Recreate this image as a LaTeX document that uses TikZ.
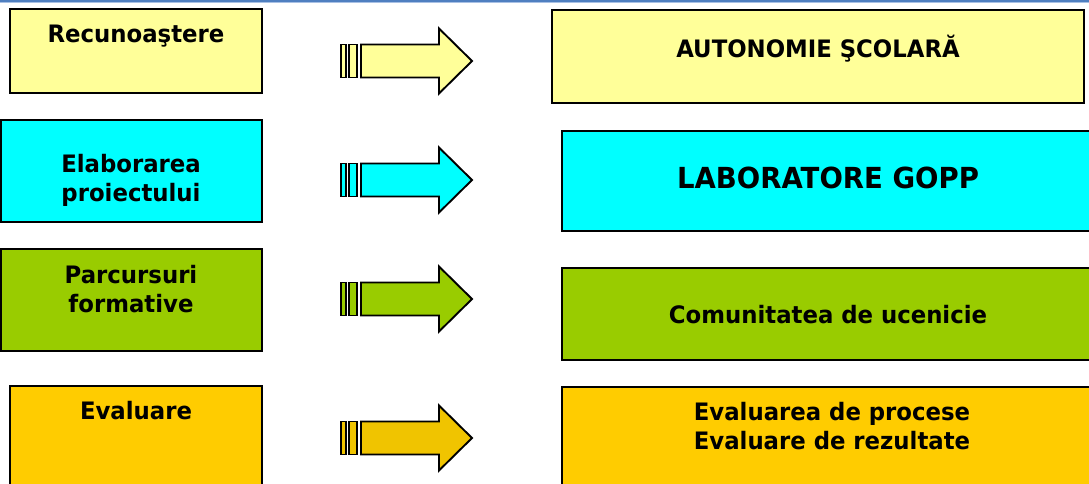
\documentclass[tikz,border=0pt]{standalone}
\usepackage{fontspec}
\setmainfont{DejaVu Sans}[FakeStretch=0.95]
\definecolor{cyel}{HTML}{FFFF99}
\definecolor{ccyan}{HTML}{00FFFF}
\definecolor{cgreen}{HTML}{99CC00}
\definecolor{cgold}{HTML}{FFCC00}
\definecolor{cgoldarr}{HTML}{F0C400}
\definecolor{topblue}{HTML}{4F7FC0}
\definecolor{toplight}{HTML}{A8C0E4}
\newcommand\blockarrow[2]{%
  \begin{scope}[shift={(0,#1)}, arrowshape, fill=#2]
    \filldraw (341,-16.5) rectangle (346,16.5);
    \filldraw (349,-16.5) rectangle (357,16.5);
    \filldraw (361,-16.5) -- (439,-16.5) -- (439,-32.5) -- (472,0)
      -- (439,32.5) -- (439,16.5) -- (361,16.5) -- cycle;
  \end{scope}}
\begin{document}
\begin{tikzpicture}[x=1pt,y=-1pt,
  box/.style={draw=black, line width=2.2pt, rectangle, inner sep=0pt},
  lbl/.style={font=\bfseries\fontsize{24}{29}\selectfont, align=center, inner sep=0pt, anchor=base},
  biglbl/.style={font=\bfseries\fontsize{29}{34}\selectfont, inner sep=0pt, anchor=base},
  arrowshape/.style={draw=black, line width=1.9pt, line join=miter}]
\useasboundingbox (0,0) rectangle (1089,484);
\clip (0,0) rectangle (1089,484);
% top rule
\draw[topblue, line width=2pt] (0,1.2) -- (1089,1.2);
\draw[toplight, line width=1.2pt] (0,2.9) -- (1089,2.9);
% left boxes
\node[box, fill=cyel, minimum width=252pt, minimum height=84pt] (L1) at (136,51) {};
\node[box, fill=ccyan, minimum width=261pt, minimum height=102pt] (L2) at (131.5,171) {};
\node[box, fill=cgreen, minimum width=261pt, minimum height=102pt] (L3) at (131.5,300) {};
\node[box, fill=cgold, minimum width=252pt, minimum height=114pt] (L4) at (136,443) {};
% right boxes
\node[box, fill=cyel, minimum width=532pt, minimum height=93pt] (R1) at (818,56.5) {};
\node[box, fill=ccyan, minimum width=536pt, minimum height=100pt] (R2) at (830,181) {};
\node[box, fill=cgreen, minimum width=536pt, minimum height=92pt] (R3) at (830,314) {};
\node[box, fill=cgold, minimum width=536pt, minimum height=113pt] (R4) at (830,443.5) {};
% arrows
\blockarrow{61}{cyel}
\blockarrow{180}{ccyan}
\blockarrow{299}{cgreen}
\blockarrow{438}{cgoldarr}
% texts (multi-line: base = last line)
\node[lbl] (t1) at (136,43) {Recunoaştere};
\node[lbl] (t2) at (131,201) {Elaborarea\\proiectului};
\node[lbl] (t3) at (131,312) {Parcursuri\\formative};
\node[lbl] (t4) at (136,419) {Evaluare};
\node[lbl] (u1) at (818,58) {AUTONOMIE ŞCOLARĂ};
\node[biglbl] (u2) at (828,188) {LABORATORE GOPP};
\node[lbl] (u3) at (828,323) {Comunitatea de ucenicie};
\node[lbl] (u4) at (832,449) {Evaluarea de procese\\Evaluare de rezultate};
\end{tikzpicture}
\end{document}
